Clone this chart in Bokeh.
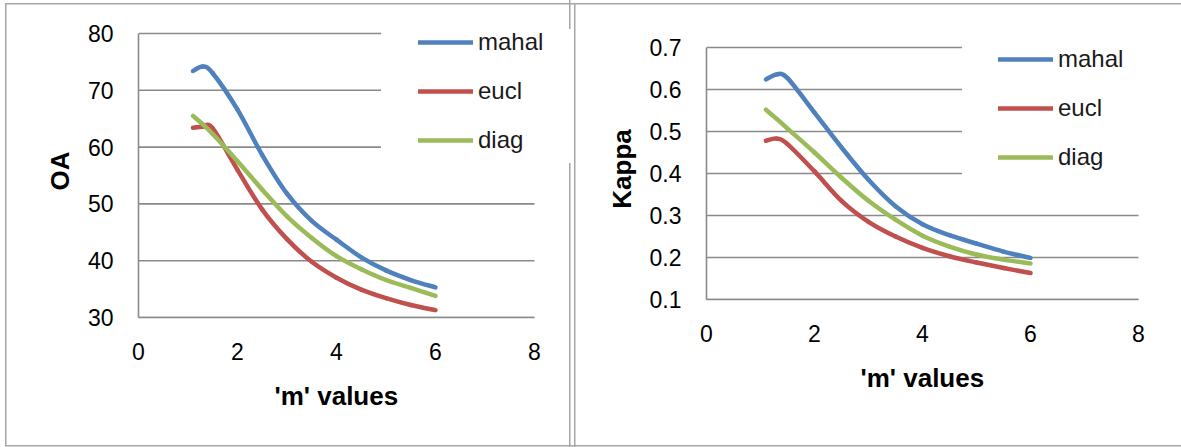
import numpy as np
from bokeh.plotting import figure
from bokeh.models import FixedTicker, Legend, LegendItem, Range1d, Title
from bokeh.layouts import row, column
from bokeh.embed import file_html
from bokeh.resources import INLINE

# 'm' values at which the classifiers were evaluated
m_values = [1.1, 1.3, 1.5, 2, 2.5, 3, 3.5, 4, 4.5, 5, 5.5, 6]

# Overall accuracy (OA, %)
oa_mahal = [73.4, 74.2, 73.0, 66.6, 58.6, 51.8, 47.0, 43.7, 40.6, 38.3, 36.6, 35.3]
oa_eucl = [63.4, 63.6, 63.3, 56.0, 49.0, 43.8, 39.8, 37.0, 34.9, 33.4, 32.2, 31.3]
oa_diag = [65.5, 64.0, 62.3, 57.5, 52.5, 47.8, 44.0, 40.8, 38.5, 36.6, 35.2, 33.8]

# Kappa coefficient
kappa_mahal = [0.624, 0.636, 0.627, 0.545, 0.462, 0.385, 0.322, 0.279, 0.253, 0.233, 0.214, 0.199]
kappa_eucl = [0.478, 0.483, 0.470, 0.405, 0.335, 0.285, 0.250, 0.223, 0.203, 0.188, 0.175, 0.163]
kappa_diag = [0.552, 0.530, 0.507, 0.450, 0.390, 0.335, 0.290, 0.252, 0.226, 0.207, 0.195, 0.186]

series_names = ["mahal", "eucl", "diag"]
series_colors = ["#4F81BD", "#C0504D", "#9BBB59"]

x_ticks = [0, 2, 4, 6, 8]
oa_ticks = [30, 40, 50, 60, 70, 80]
kappa_ticks = [0.1, 0.2, 0.3, 0.4, 0.5, 0.6, 0.7]
x_title = "'m' values"

GRID = "#8a8a8a"
FRAME = "#a6a6a6"
FONT = "Liberation Sans"
HEIGHT = 447


def smooth_segments(xs, ys):
    """Cubic Bezier pieces through the points (Catmull-Rom style smoothing)."""
    x = np.asarray(xs, dtype=float)
    y = np.asarray(ys, dtype=float)
    xp = np.concatenate([[x[0]], x, [x[-1]]])
    yp = np.concatenate([[y[0]], y, [y[-1]]])
    x0, y0 = x[:-1], y[:-1]
    x1, y1 = x[1:], y[1:]
    cx0 = x0 + (xp[2:-1] - xp[:-3]) / 6.0
    cy0 = y0 + (yp[2:-1] - yp[:-3]) / 6.0
    cx1 = x1 - (xp[3:] - xp[1:-2]) / 6.0
    cy1 = y1 - (yp[3:] - yp[1:-2]) / 6.0
    return dict(x0=x0, y0=y0, x1=x1, y1=y1, cx0=cx0, cy0=cy0, cx1=cx1, cy1=cy1)


def make_panel(width, plot_box, y_ticks, y_title, curves, legend_loc, legend_pad, title_offset):
    # plot_box: pixel edges of the value area (left, top, right, bottom) inside this canvas
    pl, pt, pr, pb = plot_box
    right_border = 4
    top_pad = 9
    axis_w = pr - pl
    axis_h = pb - pt
    frame_w = width - right_border - pl
    x_end = x_ticks[-1] * frame_w / axis_w
    y0, y1 = y_ticks[0], y_ticks[-1]
    y_end = y1 + (y1 - y0) * top_pad / axis_h

    p = figure(width=width, height=HEIGHT, output_backend="svg", toolbar_location=None,
               title=None, x_range=Range1d(0, x_end), y_range=Range1d(y0, y_end),
               min_border_left=pl, min_border_right=right_border,
               min_border_top=pt - top_pad, min_border_bottom=HEIGHT - pb)
    p.outline_line_color = None
    p.background_fill_alpha = 0
    p.border_fill_alpha = 0
    p.xgrid.visible = False
    p.ygrid.visible = False

    # horizontal gridlines spanning the x tick range only
    p.segment(x0=x_ticks[0], x1=x_ticks[-1], y0=y_ticks, y1=y_ticks,
              line_color=GRID, line_width=1.6, level="underlay")

    p.xaxis.ticker = FixedTicker(ticks=x_ticks)
    p.yaxis.ticker = FixedTicker(ticks=y_ticks)
    p.xaxis.bounds = (x_ticks[0], x_ticks[-1])
    p.yaxis.bounds = (y0, y1)
    for ax in (p.xaxis, p.yaxis):
        ax.axis_line_color = GRID
        ax.axis_line_width = 1.6
        ax.major_tick_line_color = None
        ax.minor_tick_line_color = None
        ax.major_tick_out = 0
        ax.major_tick_in = 0
        ax.major_label_text_font = FONT
        ax.major_label_text_font_size = "23px"
        ax.major_label_text_color = "#000000"
        ax.axis_label_text_font = FONT
        ax.axis_label_text_font_style = "bold"
        ax.axis_label_text_font_size = "26px"
        ax.axis_label_text_color = "#000000"
    p.xaxis.major_label_standoff = 25
    p.yaxis.major_label_standoff = 25
    p.yaxis.axis_label = y_title
    p.yaxis.axis_label_standoff = 10

    # x title centred under the 0-8 axis span
    p.add_layout(Title(text=x_title, align="left", offset=title_offset, vertical_align="top",
                       standoff=36, text_font=FONT, text_font_style="bold",
                       text_font_size="26px", text_color="#000000"), "below")

    items = []
    for name, color, ys in curves:
        seg = smooth_segments(m_values, ys)
        r = p.bezier(x0="x0", y0="y0", x1="x1", y1="y1", cx0="cx0", cy0="cy0",
                     cx1="cx1", cy1="cy1", source=seg, line_color=color,
                     line_width=4.5, line_cap="round")
        items.append(LegendItem(label=name, renderers=[r]))

    legend = Legend(items=items, location=legend_loc, margin=0, padding=legend_pad,
                    spacing=21, glyph_width=55, glyph_height=28, label_height=28,
                    label_standoff=5, label_width=66,
                    label_text_font=FONT, label_text_font_size="24px",
                    label_text_color="#1a1a1a", border_line_color="white",
                    border_line_alpha=0.0,
                    background_fill_color="white", background_fill_alpha=1.0)
    p.add_layout(legend)
    return p


oa_curves = list(zip(series_names, series_colors, [oa_mahal, oa_eucl, oa_diag]))
kappa_curves = list(zip(series_names, series_colors, [kappa_mahal, kappa_eucl, kappa_diag]))

left_panel = make_panel(572, (138, 33, 534, 317), oa_ticks, "OA", oa_curves,
                        (243, 126), 37, 136)
right_panel = make_panel(609, (134, 47, 566, 299), kappa_ticks, "Kappa", kappa_curves,
                         (256, 92), 36, 154)


def bar(x, y, w, h):
    return f"linear-gradient({FRAME}, {FRAME}) {x}px {y}px / {w}px {h}px no-repeat"


# thin grey boxes around the two chart panels
panel_frames = ", ".join([
    bar(5, 3, 1176, 1.5),
    bar(5, 445, 1176, 1.5),
    bar(4.5, 3, 1.5, 443),
    bar(569, 0, 1.5, 29),
    bar(569, 163, 1.5, 284),
    bar(573.5, 3, 1.5, 444),
])

layout = row(column(left_panel), column(right_panel), spacing=0,
             styles={"background": panel_frames, "background-color": "white"})
open("out.html", "w").write(file_html(layout, INLINE))
